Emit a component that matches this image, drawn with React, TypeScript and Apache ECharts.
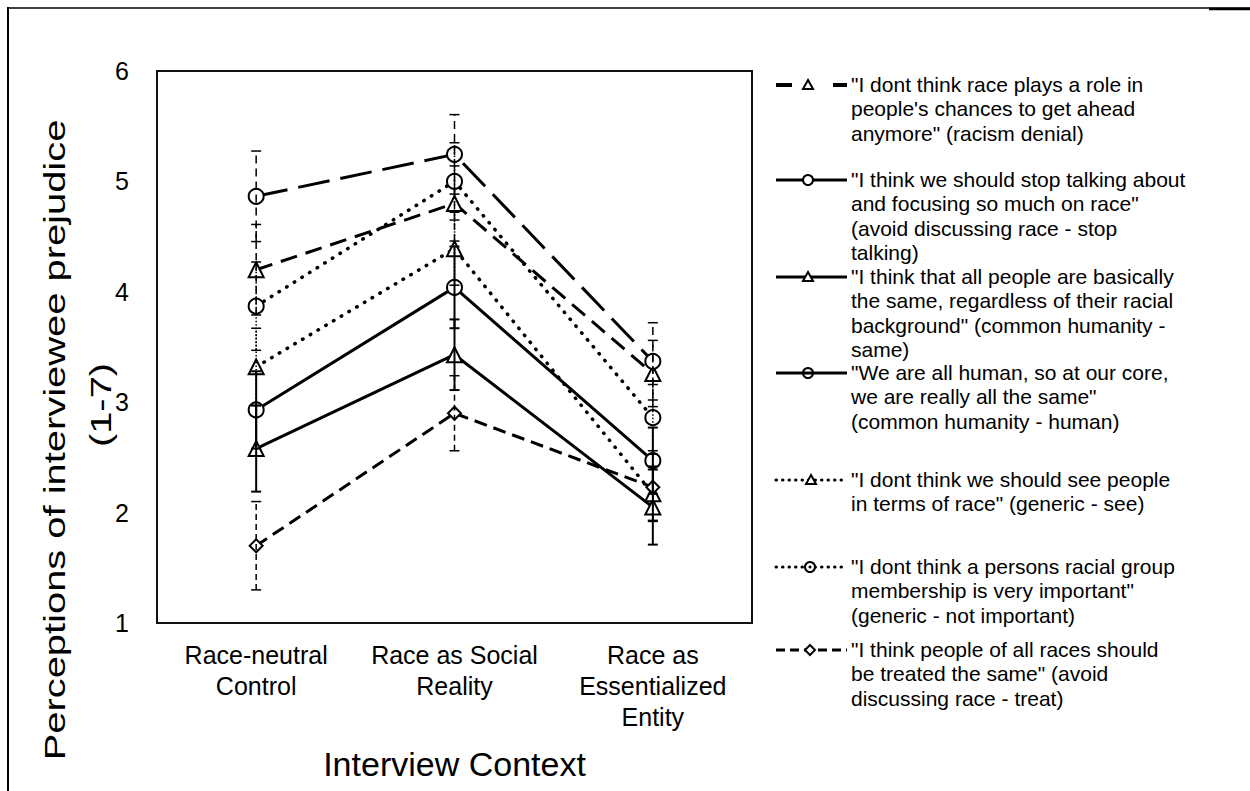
import { useEffect, useRef } from 'react';
import * as echarts from 'echarts';

// Interview contexts on the x axis
const CATEGORIES = ['Race-neutral\nControl', 'Race as Social\nReality', 'Race as\nEssentialized\nEntity'];

// Y scale (1-7 rating, shown from 1 to 6)
const Y_MIN = 1;
const Y_MAX = 6;
const Y_STEP = 1;

// Mean ratings per statement, one value per context
const racismDenial = [4.2, 4.8, 3.26];
const stopTalking = [4.865, 5.245, 3.37];
const humanitySame = [2.58, 3.43, 2.05];
const humanityHuman = [2.93, 4.04, 2.47];
const genericSee = [3.32, 4.39, 2.17];
const genericNotImportant = [3.87, 5.0, 2.86];
const treatSame = [1.7, 2.9, 2.23];

// Error bar half-widths per statement
const racismDenialErr = [0.41, 0.34, 0.3];
const stopTalkingErr = [0.41, 0.36, 0.35];
const humanitySameErr = [0.39, 0.32, 0.34];
const humanityHumanErr = [0.35, 0.37, 0.3];
const genericSeeErr = [0.35, 0.33, 0.25];
const genericNotImportantErr = [0.4, 0.35, 0.3];
const treatSameErr = [0.4, 0.34, 0.3];

// Legend wording, line by line
const LEGEND_TEXTS = [
  ['"I dont think race plays a role in', "people's chances to get ahead", 'anymore" (racism denial)'],
  ['"I think we should stop talking about', 'and focusing so much on race"', '(avoid discussing race - stop', 'talking)'],
  ['"I think that all people are basically', 'the same, regardless of their racial', 'background" (common humanity -', 'same)'],
  ['"We are all human, so at our core,', 'we are really all the same"', '(common humanity - human)'],
  ['"I dont think we should see people', 'in terms of race" (generic - see)'],
  ['"I dont think a persons racial group', 'membership is very important"', '(generic - not important)'],
  ['"I think people of all races should', 'be treated the same" (avoid', 'discussing race - treat)'],
];
const LEGEND_ROWS_Y = [85, 180, 277, 373, 480, 567, 650];

const FONT = '"Liberation Sans", Arial, Helvetica, sans-serif';

const DOT = [0.5, 8.5];

type SeriesSpec = {
  name: string;
  means: number[];
  err: number[];
  symbol: string;
  symbolSize: number;
  lineDash: number[] | 'solid';
  cap: 'butt' | 'round';
  lineWidth: number;
  errDash: number[] | null;
  errWidth: number;
};

const SERIES: SeriesSpec[] = [
  { name: 'racism denial', means: racismDenial, err: racismDenialErr, symbol: 'triangle', symbolSize: 15, lineDash: [17, 9], cap: 'butt', lineWidth: 3, errDash: [7, 4], errWidth: 1.5 },
  { name: 'avoid discussing race - stop talking', means: stopTalking, err: stopTalkingErr, symbol: 'circle', symbolSize: 15, lineDash: [32, 11], cap: 'butt', lineWidth: 3, errDash: [8, 5], errWidth: 1.5 },
  { name: 'common humanity - same', means: humanitySame, err: humanitySameErr, symbol: 'triangle', symbolSize: 15, lineDash: 'solid', cap: 'butt', lineWidth: 3, errDash: null, errWidth: 2 },
  { name: 'common humanity - human', means: humanityHuman, err: humanityHumanErr, symbol: 'circle', symbolSize: 15, lineDash: 'solid', cap: 'butt', lineWidth: 3, errDash: null, errWidth: 2 },
  { name: 'generic - see', means: genericSee, err: genericSeeErr, symbol: 'triangle', symbolSize: 15, lineDash: DOT, cap: 'round', lineWidth: 3.5, errDash: [1.5, 2], errWidth: 1.5 },
  { name: 'generic - not important', means: genericNotImportant, err: genericNotImportantErr, symbol: 'circle', symbolSize: 15, lineDash: DOT, cap: 'round', lineWidth: 3.5, errDash: [1.5, 2], errWidth: 1.5 },
  { name: 'avoid discussing race - treat', means: treatSame, err: treatSameErr, symbol: 'diamond', symbolSize: 13, lineDash: [13, 7], cap: 'butt', lineWidth: 3, errDash: [6, 4], errWidth: 1.5 },
];

// Legend sample specs: line pattern and marker for each row
type LegendSample = {
  dash: number[] | null;
  cap: 'butt' | 'round';
  marker: 'triangle' | 'circle' | 'diamond';
  markerX: number;
  fill: string;
  centerDot?: boolean;
  split?: boolean;
};
const LEGEND_SAMPLES: LegendSample[] = [
  { dash: null, cap: 'butt', marker: 'triangle', markerX: 808, fill: '#fff', split: true },
  { dash: null, cap: 'butt', marker: 'circle', markerX: 808, fill: '#fff' },
  { dash: null, cap: 'butt', marker: 'triangle', markerX: 808, fill: '#fff' },
  { dash: null, cap: 'butt', marker: 'circle', markerX: 808, fill: 'none' },
  { dash: [0.5, 6], cap: 'round', marker: 'triangle', markerX: 811, fill: '#fff' },
  { dash: [0.5, 6], cap: 'round', marker: 'circle', markerX: 810, fill: '#fff', centerDot: true },
  { dash: [9, 5], cap: 'butt', marker: 'diamond', markerX: 810, fill: '#fff' },
];

function legendGraphics() {
  const out: any[] = [];
  const x0 = 776;
  const x1 = 847;
  LEGEND_SAMPLES.forEach((s, i) => {
    const y = LEGEND_ROWS_Y[i];
    const lineStyle: any = { stroke: '#000', lineWidth: 3, lineCap: s.cap };
    if (s.dash) lineStyle.lineDash = s.dash;
    if (s.split) {
      out.push({ type: 'line', shape: { x1: x0, y1: y, x2: 792, y2: y }, style: { ...lineStyle, lineWidth: 4 }, z: 10 });
      out.push({ type: 'line', shape: { x1: 833, y1: y, x2: x1, y2: y }, style: { ...lineStyle, lineWidth: 4 }, z: 10 });
    } else {
      out.push({ type: 'line', shape: { x1: x0, y1: y, x2: x1, y2: y }, style: lineStyle, z: 10 });
    }
    const mx = s.markerX;
    const mStyle = { stroke: '#000', lineWidth: 2, fill: s.fill };
    if (s.marker === 'circle') {
      out.push({ type: 'circle', shape: { cx: mx, cy: y, r: 5 }, style: mStyle, z: 11 });
      if (s.centerDot) out.push({ type: 'circle', shape: { cx: mx, cy: y, r: 1.5 }, style: { fill: '#000' }, z: 12 });
    } else if (s.marker === 'triangle') {
      out.push({ type: 'polygon', shape: { points: [[mx, y - 5], [mx + 5, y + 4], [mx - 5, y + 4]] }, style: mStyle, z: 11 });
    } else {
      out.push({ type: 'polygon', shape: { points: [[mx, y - 5], [mx + 5, y], [mx, y + 5], [mx - 5, y]] }, style: mStyle, z: 11 });
    }
    out.push({
      type: 'text',
      x: 851,
      y: y - 12.5,
      z: 10,
      style: {
        text: LEGEND_TEXTS[i].join('\n'),
        fontSize: 21,
        fontFamily: FONT,
        lineHeight: 24.3,
        fill: '#000',
        align: 'left',
        verticalAlign: 'top',
      },
    });
  });
  return out;
}

function buildOption(): any {
  const lineSeries = SERIES.map((s) => ({
    type: 'line',
    name: s.name,
    data: s.means,
    symbol: s.symbol,
    symbolSize: s.symbolSize,
    showSymbol: true,
    silent: true,
    z: 2,
    lineStyle: { color: '#000', width: s.lineWidth, type: s.lineDash, cap: s.cap },
    itemStyle: { color: '#fff', borderColor: '#000', borderWidth: 2 },
    emphasis: { disabled: true },
  }));

  const errorSeries = SERIES.map((s) => ({
    type: 'custom',
    name: s.name + ' (error)',
    silent: true,
    z: 3,
    encode: { x: 0, y: [1, 2] },
    data: s.means.map((m, i) => [i, m - s.err[i], m + s.err[i]]),
    renderItem: (_params: any, api: any) => {
      const c = api.value(0);
      const lo = api.coord([c, api.value(1)]);
      const hi = api.coord([c, api.value(2)]);
      const hw = 5;
      const stem: any = { stroke: '#000', lineWidth: s.errWidth };
      if (s.errDash) stem.lineDash = s.errDash;
      const capStyle: any = { stroke: '#000', lineWidth: s.errWidth };
      return {
        type: 'group',
        children: [
          { type: 'line', shape: { x1: lo[0], y1: lo[1], x2: hi[0], y2: hi[1] }, style: stem },
          { type: 'line', shape: { x1: hi[0] - hw, y1: hi[1], x2: hi[0] + hw, y2: hi[1] }, style: capStyle },
          { type: 'line', shape: { x1: lo[0] - hw, y1: lo[1], x2: lo[0] + hw, y2: lo[1] }, style: capStyle },
        ],
      };
    },
  }));

  return {
    animation: false,
    backgroundColor: '#fff',
    textStyle: { fontFamily: FONT },
    grid: {
      left: 157,
      top: 71,
      width: 595,
      height: 552,
      show: true,
      borderColor: '#111',
      borderWidth: 2,
      backgroundColor: 'transparent',
    },
    xAxis: {
      type: 'category',
      data: CATEGORIES,
      boundaryGap: true,
      axisLine: { show: false },
      axisTick: { show: false },
      splitLine: { show: false },
      axisLabel: {
        color: '#000',
        fontSize: 25,
        lineHeight: 31,
        fontFamily: FONT,
        margin: 16,
        interval: 0,
      },
      name: 'Interview Context',
      nameLocation: 'middle',
      nameGap: 124,
      nameTextStyle: { color: '#000', fontSize: 34, fontFamily: FONT },
    },
    yAxis: {
      type: 'value',
      min: Y_MIN,
      max: Y_MAX,
      interval: Y_STEP,
      axisLine: { show: false },
      axisTick: { show: false },
      splitLine: { show: false },
      axisLabel: { color: '#000', fontSize: 25, fontFamily: FONT, margin: 28 },
    },
    graphic: [
      // page frame
      { type: 'line', shape: { x1: 7, y1: 8, x2: 1250, y2: 8 }, style: { stroke: '#000', lineWidth: 1.5 } },
      { type: 'line', shape: { x1: 1209, y1: 9, x2: 1250, y2: 9 }, style: { stroke: '#000', lineWidth: 2.5 } },
      { type: 'line', shape: { x1: 8, y1: 7, x2: 8, y2: 791 }, style: { stroke: '#000', lineWidth: 2 } },
      // y axis title, two lines
      {
        type: 'text',
        x: 54,
        y: 440,
        rotation: Math.PI / 2,
        scaleX: 1.33,
        style: {
          text: 'Perceptions of interviewee prejudice',
          fontSize: 30,
          fontFamily: FONT,
          fill: '#000',
          align: 'center',
          verticalAlign: 'middle',
        },
      },
      {
        type: 'text',
        x: 100,
        y: 405,
        rotation: Math.PI / 2,
        scaleX: 1.33,
        style: {
          text: '(1-7)',
          fontSize: 30,
          fontFamily: FONT,
          fill: '#000',
          align: 'center',
          verticalAlign: 'middle',
        },
      },
      ...legendGraphics(),
    ],
    series: [...lineSeries, ...errorSeries],
  };
}

export default function App() {
  const ref = useRef<HTMLDivElement>(null);
  useEffect(() => {
    if (!ref.current) return;
    const chart = echarts.init(ref.current, undefined, { renderer: 'svg' });
    chart.setOption(buildOption());
    return () => chart.dispose();
  }, []);
  return (
    <div
      ref={ref}
      style={{ position: 'fixed', left: 0, top: 0, width: 1250, height: 791, background: '#fff' }}
    />
  );
}
